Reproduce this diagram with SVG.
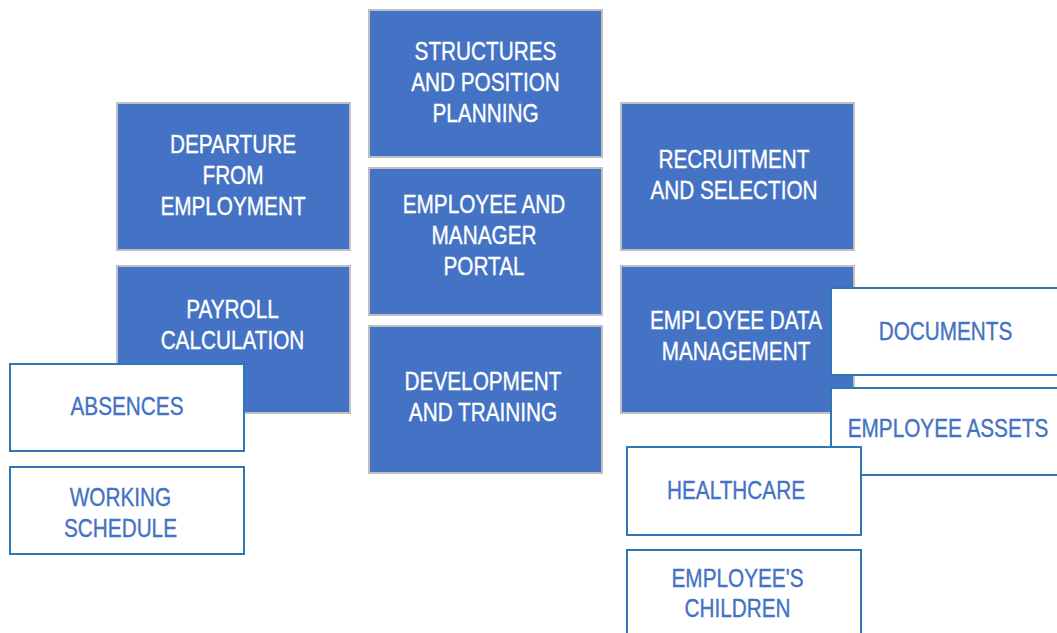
<svg xmlns="http://www.w3.org/2000/svg" width="1057" height="633" viewBox="0 0 1057 633">
<style>
.blue{fill:#4472C4;stroke:#BFBFBF;stroke-width:2}
.white{fill:#FFFFFF;stroke:#2E75B6;stroke-width:2}
text{font-family:"Liberation Sans",Arial,sans-serif;font-size:25px;text-anchor:middle;stroke-width:0.35px}
.tw{fill:#FFFFFF;stroke:#FFFFFF}
.tb{fill:#4472C4;stroke:#4472C4}
</style>
<rect width="1057" height="633" fill="#FFFFFF"/>
<g id="connectors"/>
<g id="structures">
<rect class="blue" x="369" y="10" width="233" height="147"/>
<text class="tw" transform="matrix(0.83 0 0 1 485.5 0)"><tspan x="0" y="60">STRUCTURES</tspan><tspan x="0" y="91">AND POSITION</tspan><tspan x="0" y="122">PLANNING</tspan></text>
</g>
<g id="portal">
<rect class="blue" x="369" y="168" width="233" height="147"/>
<text class="tw" transform="matrix(0.83 0 0 1 484 0)"><tspan x="0" y="213.5">EMPLOYEE AND</tspan><tspan x="0" y="244.5">MANAGER</tspan><tspan x="0" y="275.5">PORTAL</tspan></text>
</g>
<g id="development">
<rect class="blue" x="369" y="326" width="233" height="147"/>
<text class="tw" transform="matrix(0.83 0 0 1 483 0)"><tspan x="0" y="390.5">DEVELOPMENT</tspan><tspan x="0" y="421.5">AND TRAINING</tspan></text>
</g>
<g id="departure">
<rect class="blue" x="117" y="103" width="233" height="147"/>
<text class="tw" transform="matrix(0.83 0 0 1 233 0)"><tspan x="0" y="153">DEPARTURE</tspan><tspan x="0" y="184">FROM</tspan><tspan x="0" y="215">EMPLOYMENT</tspan></text>
</g>
<g id="payroll">
<rect class="blue" x="117" y="266" width="233" height="147"/>
<text class="tw" transform="matrix(0.83 0 0 1 232.5 0)"><tspan x="0" y="318.5">PAYROLL</tspan><tspan x="0" y="349.5">CALCULATION</tspan></text>
</g>
<g id="recruitment">
<rect class="blue" x="621" y="103" width="233" height="147"/>
<text class="tw" transform="matrix(0.83 0 0 1 734 0)"><tspan x="0" y="168.5">RECRUITMENT</tspan><tspan x="0" y="199.5">AND SELECTION</tspan></text>
</g>
<g id="employee-data">
<rect class="blue" x="621" y="266" width="233" height="147"/>
<text class="tw" transform="matrix(0.83 0 0 1 736 0)"><tspan x="0" y="329">EMPLOYEE DATA</tspan><tspan x="0" y="360">MANAGEMENT</tspan></text>
</g>
<g id="absences">
<rect class="white" x="10" y="364" width="234" height="87"/>
<text class="tb" transform="matrix(0.83 0 0 1 127 0)"><tspan x="0" y="415">ABSENCES</tspan></text>
</g>
<g id="working-schedule">
<rect class="white" x="10" y="467" width="234" height="87"/>
<text class="tb" transform="matrix(0.83 0 0 1 120.5 0)"><tspan x="0" y="506">WORKING</tspan><tspan x="0" y="537">SCHEDULE</tspan></text>
</g>
<g id="documents">
<rect class="white" x="831" y="288" width="240" height="87"/>
<text class="tb" transform="matrix(0.83 0 0 1 945.5 0)"><tspan x="0" y="340">DOCUMENTS</tspan></text>
</g>
<g id="employee-assets">
<rect class="white" x="831" y="388" width="240" height="87"/>
<text class="tb" transform="matrix(0.83 0 0 1 948 0)"><tspan x="0" y="437">EMPLOYEE ASSETS</tspan></text>
</g>
<g id="healthcare">
<rect class="white" x="627" y="447" width="234" height="88"/>
<text class="tb" transform="matrix(0.83 0 0 1 736 0)"><tspan x="0" y="499">HEALTHCARE</tspan></text>
</g>
<g id="employees-children">
<rect class="white" x="627" y="550" width="234" height="100"/>
<text class="tb" transform="matrix(0.83 0 0 1 737.5 0)"><tspan x="0" y="587">EMPLOYEE'S</tspan><tspan x="0" y="617">CHILDREN</tspan></text>
</g>
</svg>
